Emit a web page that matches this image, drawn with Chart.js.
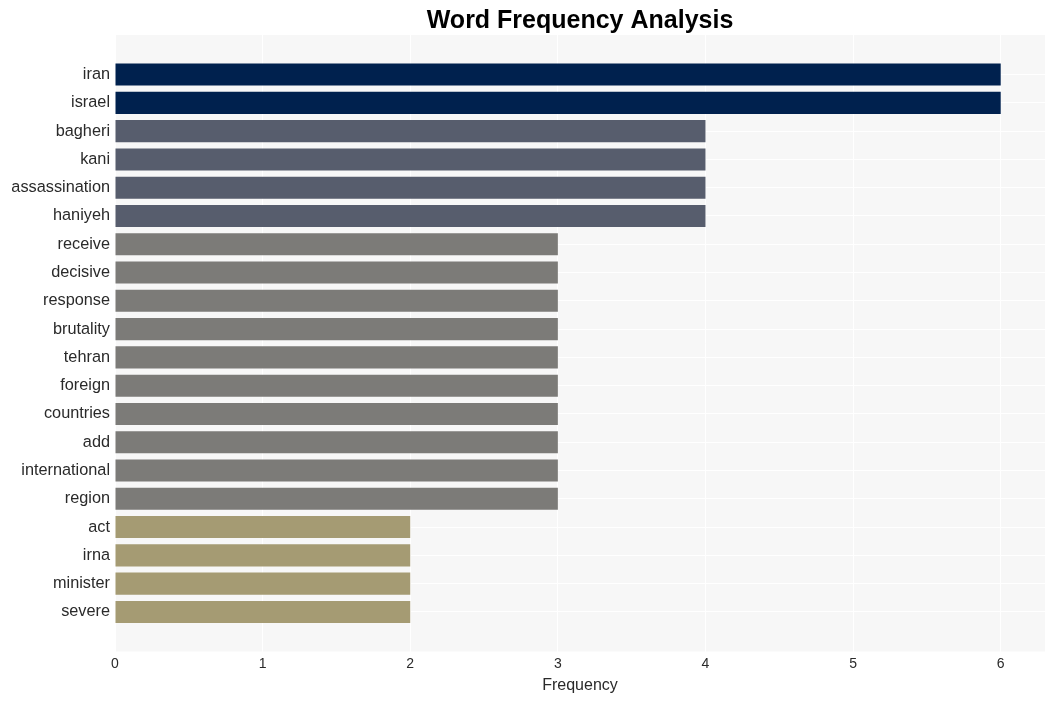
<!DOCTYPE html>
<html>
<head>
<meta charset="utf-8">
<script src="https://cdn.jsdelivr.net/npm/chart.js@4/dist/chart.umd.min.js"></script>
<style>
html,body{margin:0;padding:0;background:#fff;}
#wrap{width:1055px;height:701px;position:relative;}
</style>
</head>
<body>
<div id="wrap"><canvas id="c" width="1055" height="701"></canvas></div>
<script>
const words = ["iran","israel","bagheri","kani","assassination","haniyeh","receive","decisive","response","brutality","tehran","foreign","countries","add","international","region","act","irna","minister","severe"];
const frequencies = [6,6,4,4,4,4,3,3,3,3,3,3,3,3,3,3,2,2,2,2];
const xTicks = [0,1,2,3,4,5,6];
const titleText = "Word Frequency Analysis";
const xTitle = "Frequency";

function colorFor(v){
  if (v >= 6) return "#00214e";
  if (v >= 4) return "#575d6d";
  if (v >= 3) return "#7c7b78";
  return "#a59b73";
}

const FONT = "'Liberation Sans', Arial, sans-serif";

const bgPlugin = {
  id: 'bg',
  beforeDraw(chart){
    const {ctx, chartArea:a} = chart;
    ctx.save();
    ctx.fillStyle = '#f7f7f7';
    ctx.fillRect(a.left, a.top, a.right - a.left, a.bottom - a.top);
    ctx.restore();
  },
  afterDraw(chart){
    const {ctx, chartArea:a} = chart;
    ctx.save();
    ctx.fillStyle = '#000';
    ctx.font = "bold 25px " + FONT;
    ctx.textAlign = 'center';
    ctx.textBaseline = 'middle';
    ctx.fillText(titleText, (a.left + a.right)/2, 21);
    ctx.restore();
  }
};

const data = words.map((w,i) => ({x: frequencies[i], y: i}));

new Chart(document.getElementById('c'), {
  type: 'bar',
  data: {
    datasets: [{
      data: data,
      backgroundColor: frequencies.map(colorFor),
      borderWidth: 0,
      categoryPercentage: 1.0,
      barPercentage: 0.78
    }]
  },
  plugins: [bgPlugin],
  options: {
    indexAxis: 'y',
    responsive: false,
    animation: false,
    devicePixelRatio: 1,
    layout: {padding: {top: 35, right: 10, left: 0, bottom: 6}},
    plugins: {legend: {display: false}, title: {display: false}, tooltip: {enabled: false}},
    scales: {
      x: {
        type: 'linear',
        min: 0,
        max: 6.3,
        bounds: 'data',
        afterBuildTicks(scale){ scale.ticks = xTicks.map(v => ({value: v})); },
        afterFit(scale){ scale.height = 43.5; },
        grid: {color: '#ffffff', lineWidth: 1, drawTicks: false},
        border: {display: false},
        ticks: {color: '#2a2a2a', font: {family: FONT, size: 14}, padding: 4},
        title: {display: true, text: xTitle, color: '#2a2a2a', font: {family: FONT, size: 16}, padding: {top: 2, bottom: 0}}
      },
      y: {
        type: 'linear',
        reverse: true,
        offset: false,
        bounds: 'data',
        min: -1.4,
        max: 20.4,
        afterBuildTicks(scale){ scale.ticks = words.map((w,i) => ({value: i})); },
        afterFit(scale){ scale.width = 115; },
        grid: {color: '#ffffff', lineWidth: 1, drawTicks: false, offset: false},
        border: {display: false},
        ticks: {
          color: '#2a2a2a', font: {family: FONT, size: 16.3}, padding: 5, autoSkip: false,
          callback: (v) => words[v] !== undefined ? words[v] : ''
        }
      }
    }
  }
});
</script>
</body>
</html>
